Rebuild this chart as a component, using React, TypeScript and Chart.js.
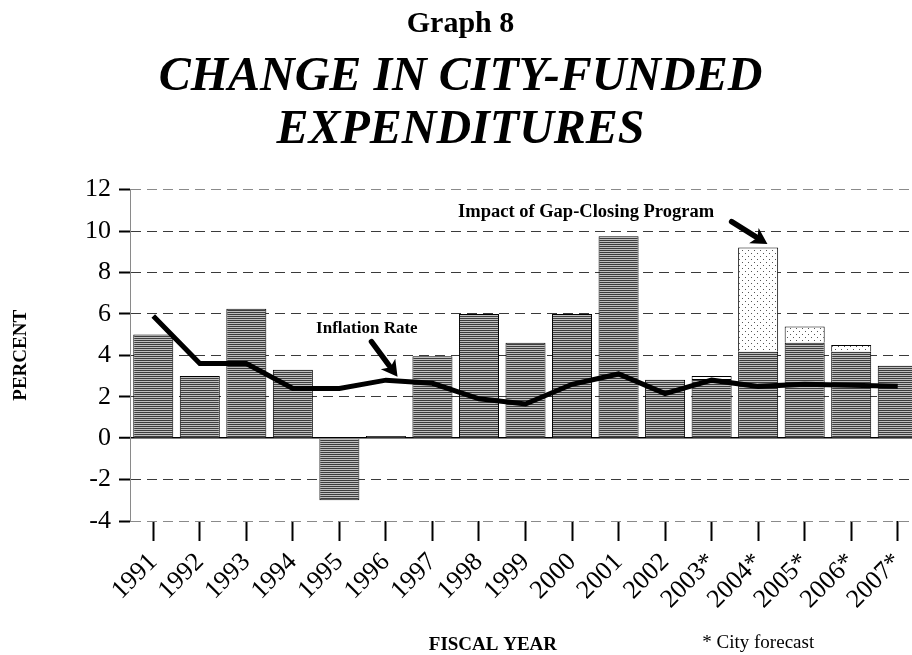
import React, { useEffect, useRef } from "react";
import { Chart, registerables } from "chart.js";

Chart.register(...registerables);

// ---- data ----
const fiscalYears = [
  "1991", "1992", "1993", "1994", "1995", "1996", "1997", "1998", "1999",
  "2000", "2001", "2002", "2003*", "2004*", "2005*", "2006*", "2007*",
];
const cityFundedChange = [
  5.0, 3.0, 6.25, 3.3, -3.0, 0.1, 3.95, 6.0, 4.6, 6.0, 9.75, 2.82, 2.85, 4.17, 4.6, 4.17, 3.5,
];
const gapClosingImpact = [
  null, null, null, null, null, null, null, null, null, null, null, null, 0.15, 5.03, 0.79, 0.33, null,
];
const inflationRate = [
  5.9, 3.6, 3.6, 2.4, 2.4, 2.8, 2.65, 1.9, 1.65, 2.6, 3.1, 2.15, 2.8, 2.5, 2.6, 2.55, 2.5,
];
const percentTicks = [-4, -2, 0, 2, 4, 6, 8, 10, 12];

// annotation anchors in data space (category index, percent)
const inflationNote = { text: "Inflation Rate", x: 3.5, y: 5.3 };
const inflationArrow = { from: [4.69, 4.66], to: [5.25, 2.96] };
const gapNote = { text: "Impact of Gap-Closing Program", x: 6.55, y: 10.93 };
const gapArrow = { from: [12.43, 10.45], to: [13.2, 9.37] };
const forecastNote = { text: "* City forecast", x: 11.8 };
const xAxisTitle = { text: "FISCAL YEAR", x: 7.3 };

const SERIF = '"Liberation Serif", "Times New Roman", serif';

function drawArrow(ctx: CanvasRenderingContext2D, x1: number, y1: number, x2: number, y2: number) {
  const ang = Math.atan2(y2 - y1, x2 - x1);
  const head = 16;
  const hw = 9;
  const bx = x2 - head * Math.cos(ang);
  const by = y2 - head * Math.sin(ang);
  ctx.lineWidth = 5.5;
  ctx.lineCap = "round";
  ctx.beginPath();
  ctx.moveTo(x1, y1);
  ctx.lineTo(bx + 2 * Math.cos(ang), by + 2 * Math.sin(ang));
  ctx.stroke();
  ctx.beginPath();
  ctx.moveTo(x2, y2);
  ctx.lineTo(bx + hw * Math.sin(ang), by - hw * Math.cos(ang));
  ctx.lineTo(bx + 4 * Math.cos(ang), by + 4 * Math.sin(ang));
  ctx.lineTo(bx - hw * Math.sin(ang), by + hw * Math.cos(ang));
  ctx.closePath();
  ctx.fill();
}

const notesPlugin = {
  id: "notes",
  afterDatasetsDraw(chart: any) {
    const { ctx, scales } = chart;
    const x = scales.x;
    const y = scales.y;
    ctx.save();
    ctx.fillStyle = "#000";
    ctx.strokeStyle = "#000";
    ctx.textBaseline = "middle";
    ctx.textAlign = "left";
    ctx.font = `bold 17px ${SERIF}`;
    ctx.fillText(inflationNote.text, x.getPixelForValue(inflationNote.x), y.getPixelForValue(inflationNote.y));
    ctx.font = `bold 18.5px ${SERIF}`;
    ctx.fillText(gapNote.text, x.getPixelForValue(gapNote.x), y.getPixelForValue(gapNote.y));
    drawArrow(
      ctx,
      x.getPixelForValue(inflationArrow.from[0]), y.getPixelForValue(inflationArrow.from[1]),
      x.getPixelForValue(inflationArrow.to[0]), y.getPixelForValue(inflationArrow.to[1])
    );
    drawArrow(
      ctx,
      x.getPixelForValue(gapArrow.from[0]), y.getPixelForValue(gapArrow.from[1]),
      x.getPixelForValue(gapArrow.to[0]), y.getPixelForValue(gapArrow.to[1])
    );
    ctx.font = `19px ${SERIF}`;
    ctx.fillText(forecastNote.text, x.getPixelForValue(forecastNote.x), x.bottom - 12);
    ctx.font = `bold 19px ${SERIF}`;
    ctx.textAlign = "center";
    ctx.fillText(xAxisTitle.text, x.getPixelForValue(xAxisTitle.x), x.bottom - 10);
    ctx.restore();
  },
};

function stripePattern(ctx: CanvasRenderingContext2D) {
  const c = document.createElement("canvas");
  c.width = 4;
  c.height = 2;
  const g = c.getContext("2d")!;
  g.fillStyle = "#c0c0c0";
  g.fillRect(0, 0, 4, 2);
  g.fillStyle = "#3e3e3e";
  g.fillRect(0, 0, 4, 1);
  return ctx.createPattern(c, "repeat")!;
}

function dotPattern(ctx: CanvasRenderingContext2D) {
  const c = document.createElement("canvas");
  c.width = 6;
  c.height = 6;
  const g = c.getContext("2d")!;
  g.fillStyle = "#ffffff";
  g.fillRect(0, 0, 6, 6);
  g.fillStyle = "#555555";
  g.fillRect(1, 1, 1, 1);
  g.fillRect(4, 4, 1, 1);
  return ctx.createPattern(c, "repeat")!;
}

export default function App() {
  const ref = useRef<HTMLCanvasElement>(null);

  useEffect(() => {
    const canvas = ref.current!;
    const ctx = canvas.getContext("2d")!;
    const chart = new Chart(canvas, {
      type: "bar",
      data: {
        labels: fiscalYears,
        datasets: [
          {
            type: "line",
            label: "Inflation Rate",
            data: inflationRate,
            borderColor: "#000",
            borderWidth: 5,
            pointRadius: 0,
            tension: 0,
            stack: "inflation",
            order: 0,
          } as any,
          {
            label: "City-funded expenditures",
            data: cityFundedChange,
            backgroundColor: stripePattern(ctx),
            borderColor: "#000",
            borderWidth: 1,
            stack: "spend",
            barPercentage: 0.86,
            categoryPercentage: 1,
            order: 1,
          },
          {
            label: "Impact of Gap-Closing Program",
            data: gapClosingImpact,
            backgroundColor: dotPattern(ctx),
            borderColor: "#000",
            borderWidth: 1,
            stack: "spend",
            barPercentage: 0.86,
            categoryPercentage: 1,
            order: 2,
          },
        ],
      },
      options: {
        responsive: false,
        animation: false,
        layout: { padding: { left: 0, right: 9, top: 0, bottom: 0 } },
        plugins: {
          legend: { display: false },
          tooltip: { enabled: false },
          title: {
            display: true,
            text: "Graph 8",
            color: "#000",
            font: { family: SERIF, size: 30, weight: "bold", lineHeight: 1.2 },
            padding: { top: 6, bottom: 0 },
          },
          subtitle: {
            display: true,
            text: ["CHANGE IN CITY-FUNDED", "EXPENDITURES"],
            color: "#000",
            font: { family: SERIF, size: 48, weight: "bold", style: "italic", lineHeight: 1.1 },
            padding: { top: 9, bottom: 33 },
          },
        },
        scales: {
          x: {
            stacked: true,
            offset: true,
            grid: {
              offset: false,
              drawOnChartArea: false,
              drawTicks: true,
              tickLength: 20,
              tickColor: "#000",
              tickWidth: 2,
            },
            border: { display: false },
            ticks: {
              autoSkip: false,
              minRotation: 45,
              maxRotation: 45,
              padding: 6,
              color: "#000",
              font: { family: SERIF, size: 26 },
            },
            title: { display: false },
            afterFit(scale: any) {
              scale.height = 134;
            },
          },
          y: {
            stacked: true,
            min: -4,
            max: 12,
            afterBuildTicks(scale: any) {
              scale.ticks = percentTicks.map((v) => ({ value: v }));
            },
            afterFit(scale: any) {
              scale.width = 130;
            },
            grid: {
              color: (c: any) => {
                const v = c.tick ? c.tick.value : null;
                if (v === 0) return "#000";
                if (v === 12 || v === -4) return "#8a8a8a";
                return "#3a3a3a";
              },
              lineWidth: (c: any) => (c.tick && c.tick.value === 0 ? 1.5 : 1),
              tickLength: 11,
              tickColor: "#000",
              tickWidth: 2,
            },
            border: {
              display: true,
              color: "#8a8a8a",
              width: 1,
              dash: (c: any) => (c.tick && c.tick.value === 0 ? [] : [10, 6]),
            } as any,
            ticks: {
              padding: 8,
              color: "#000",
              font: { family: SERIF, size: 26 },
            },
            title: {
              display: true,
              text: "PERCENT",
              color: "#000",
              font: { family: SERIF, size: 19, weight: "bold" },
              padding: { top: 10, bottom: 0 },
            },
          },
        },
      },
      plugins: [notesPlugin],
    } as any);
    return () => chart.destroy();
  }, []);

  return (
    <div
      style={{
        position: "fixed",
        left: 0,
        top: 0,
        width: 912,
        height: 655,
        overflow: "hidden",
        background: "#fff",
      }}
    >
      <canvas ref={ref} width={930} height={655} style={{ display: "block", width: 930, height: 655 }} />
    </div>
  );
}
